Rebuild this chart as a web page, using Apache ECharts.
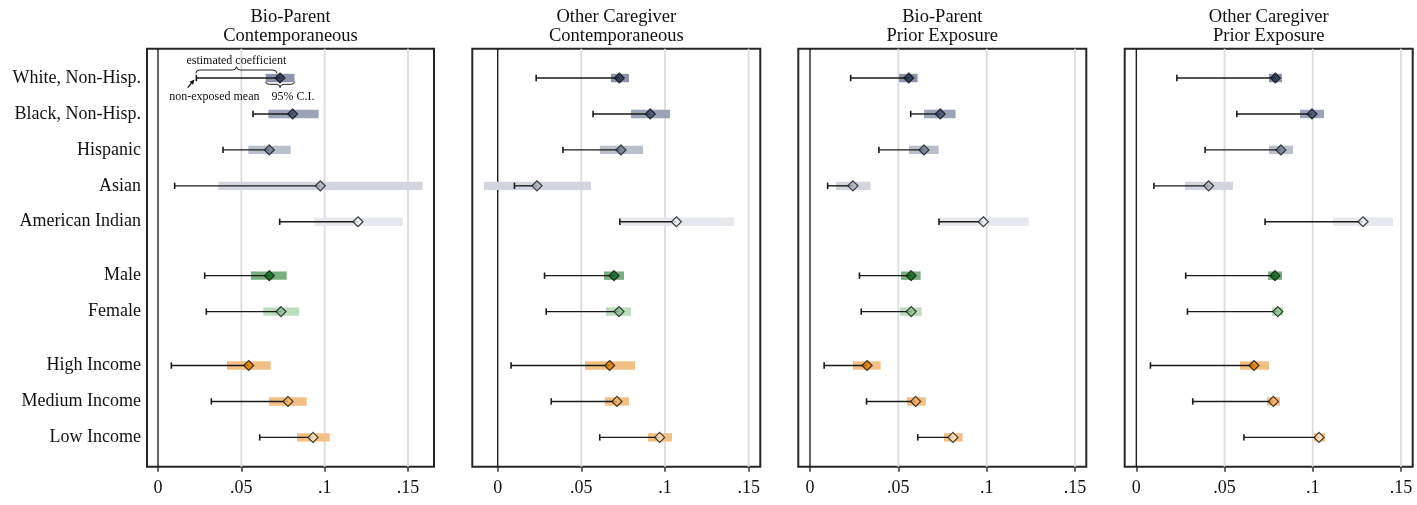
<!DOCTYPE html>
<html>
<head>
<meta charset="utf-8">
<script src="https://cdn.jsdelivr.net/npm/echarts@6/dist/echarts.min.js"></script>
<style>
html,body{margin:0;padding:0;background:#fff;}
#chart{width:1417px;height:505px;}
</style>
</head>
<body>
<div id="chart"></div>
<script>
// ---------- data ----------
const categories = ['White, Non-Hisp.', 'Black, Non-Hisp.', 'Hispanic', 'Asian', 'American Indian',
  'Male', 'Female', 'High Income', 'Medium Income', 'Low Income'];
const rowPositions = [0, 1, 2, 3, 4, 5.5, 6.5, 8, 9, 10];
const panelTitles = ['Bio-Parent\nContemporaneous', 'Other Caregiver\nContemporaneous',
  'Bio-Parent\nPrior Exposure', 'Other Caregiver\nPrior Exposure'];
const xTickValues = [0, 0.05, 0.1, 0.15];
const xTickLabels = ['0', '.05', '.1', '.15'];

// non-exposed mean (start of each line)
const nonExposedMean = [0.023, 0.057, 0.039, 0.010, 0.073, 0.028, 0.029, 0.008, 0.032, 0.061];

// panel 1: Bio-Parent Contemporaneous
const est1 = [0.0732, 0.0808, 0.0668, 0.0974, 0.1200, 0.0668, 0.0738, 0.0544, 0.0780, 0.0930];
const lo1  = [0.0646, 0.0662, 0.0542, 0.0362, 0.0938, 0.0558, 0.0632, 0.0414, 0.0666, 0.0834];
const hi1  = [0.0819, 0.0964, 0.0796, 0.1588, 0.1468, 0.0772, 0.0846, 0.0676, 0.0892, 0.1030];
// panel 2: Other Caregiver Contemporaneous
const est2 = [0.0727, 0.0912, 0.0737, 0.0235, 0.1068, 0.0695, 0.0725, 0.0669, 0.0713, 0.0968];
const lo2  = [0.0677, 0.0797, 0.0611, -0.0082, 0.0731, 0.0635, 0.0647, 0.0522, 0.0641, 0.0898];
const hi2  = [0.0785, 0.1030, 0.0869, 0.0558, 0.1413, 0.0755, 0.0797, 0.0821, 0.0785, 0.1042];
// panel 3: Bio-Parent Prior Exposure
const est3 = [0.0559, 0.0737, 0.0645, 0.0243, 0.0981, 0.0572, 0.0573, 0.0323, 0.0598, 0.0809];
const lo3  = [0.0504, 0.0645, 0.0560, 0.0147, 0.0730, 0.0515, 0.0509, 0.0243, 0.0549, 0.0758];
const hi3  = [0.0609, 0.0824, 0.0728, 0.0343, 0.1238, 0.0626, 0.0632, 0.0400, 0.0655, 0.0864];
// panel 4: Other Caregiver Prior Exposure
const est4 = [0.0788, 0.0996, 0.0820, 0.0410, 0.1285, 0.0786, 0.0802, 0.0667, 0.0777, 0.1036];
const lo4  = [0.0752, 0.0928, 0.0752, 0.0276, 0.1115, 0.0747, 0.0769, 0.0588, 0.0741, 0.1007];
const hi4  = [0.0826, 0.1064, 0.0888, 0.0548, 0.1455, 0.0826, 0.0832, 0.0752, 0.0815, 0.1070];

const panelEst = [est1, est2, est3, est4];
const panelLo = [lo1, lo2, lo3, lo4];
const panelHi = [hi1, hi2, hi3, hi4];
const panelXMin = [-0.0066, -0.01518, -0.00662, -0.00658];
const panelXMax = [0.1656, 0.15697, 0.15637, 0.15669];

// ---------- styles ----------
const barColors = ['#8c95ab', '#9ba3b8', '#b9bfcd', '#d2d5de', '#e7e8ee',
  '#78ae7e', '#bddbbf', '#f2bf84', '#f2bf84', '#f2bf84'];
const markerColors = ['#1f2c4a', '#3d4a69', '#6f7a93', '#aab1c2', '#eef0f4',
  '#0e6418', '#8cc292', '#e27d00', '#f4b062', '#fbe2c2'];
const FONT = '"Liberation Serif", "Times New Roman", serif';
const gridLefts = [147, 472.3, 798.3, 1124.7];
const gridWidth = 288;
const gridTop = 48.7;
const gridHeight = 418;
const yMin = -0.816, yMax = 10.816;

const chart = echarts.init(document.getElementById('chart'), null, {renderer: 'canvas'});

const grids = [], xAxes = [], yAxes = [], series = [], titles = [];

for (let p = 0; p < 4; p++) {
  grids.push({
    left: gridLefts[p], top: gridTop, width: p === 0 ? 287 : gridWidth, height: gridHeight,
    show: true, borderColor: '#262626', borderWidth: 2, backgroundColor: 'transparent',
    containLabel: false
  });
  titles.push({
    text: panelTitles[p],
    left: gridLefts[p] + (p === 0 ? 287 : gridWidth) / 2,
    top: 7, textAlign: 'center', padding: 0,
    textStyle: {fontFamily: FONT, fontSize: 18.5, fontWeight: 'normal', color: '#111', lineHeight: 19.5}
  });
  xAxes.push({
    type: 'value', gridIndex: p, min: panelXMin[p], max: panelXMax[p], position: 'bottom',
    axisLine: {show: false, onZero: false},
    axisTick: {show: true, customValues: xTickValues, length: 5, lineStyle: {color: '#333', width: 1.5}},
    axisLabel: {
      customValues: xTickValues, margin: 13,
      formatter: v => {
        let best = 0;
        xTickValues.forEach((t, i) => { if (Math.abs(t - v) < Math.abs(xTickValues[best] - v)) best = i; });
        return xTickLabels[best];
      },
      fontFamily: FONT, fontSize: 18, color: '#111'
    },
    splitLine: {show: false}
  });
  yAxes.push({
    type: 'value', gridIndex: p, inverse: true, min: yMin, max: yMax,
    axisLine: {show: false, onZero: false}, axisTick: {show: false}, splitLine: {show: false},
    axisLabel: p === 0 ? {
      show: true, customValues: rowPositions, margin: 6,
      formatter: v => {
        let best = 0;
        rowPositions.forEach((t, i) => { if (Math.abs(t - v) < Math.abs(rowPositions[best] - v)) best = i; });
        return categories[best];
      },
      fontFamily: FONT, fontSize: 18, color: '#111'
    } : {show: false}
  });

  // gridlines + zero line
  series.push({
    type: 'custom', xAxisIndex: p, yAxisIndex: p, silent: true, z: 1,
    data: xTickValues.map(v => [v, 0]),
    encode: {x: 0, y: 1},
    clip: false,
    renderItem: (params, api) => {
      const v = api.value(0);
      const top = api.coord([v, yMin]);
      const bot = api.coord([v, yMax]);
      const isZero = Math.abs(v) < 1e-9;
      return {
        type: 'line',
        shape: {x1: top[0], y1: top[1], x2: bot[0], y2: bot[1]},
        style: {stroke: isZero ? '#111' : '#dcdcdc', lineWidth: isZero ? 1.3 : 1.8}
      };
    }
  });

  // CI bars
  series.push({
    type: 'custom', xAxisIndex: p, yAxisIndex: p, silent: true, z: 2,
    data: categories.map((c, i) => [panelLo[p][i], panelHi[p][i], rowPositions[i], i]),
    encode: {x: [0, 1], y: 2},
    renderItem: (params, api) => {
      const a = api.coord([api.value(0), api.value(2)]);
      const b = api.coord([api.value(1), api.value(2)]);
      const idx = api.value(3);
      return {
        type: 'rect',
        shape: {x: a[0], y: a[1] - 4.2, width: b[0] - a[0], height: 8.4},
        style: {fill: barColors[idx]}
      };
    }
  });

  // mean -> estimate line with cap
  series.push({
    type: 'custom', xAxisIndex: p, yAxisIndex: p, silent: true, z: 3,
    data: categories.map((c, i) => [nonExposedMean[i], panelEst[p][i], rowPositions[i]]),
    encode: {x: [0, 1], y: 2},
    renderItem: (params, api) => {
      const a = api.coord([api.value(0), api.value(2)]);
      const b = api.coord([api.value(1), api.value(2)]);
      return {
        type: 'group',
        children: [
          {type: 'line', shape: {x1: a[0], y1: a[1], x2: b[0], y2: b[1]},
            style: {stroke: '#1a1a1a', lineWidth: 1.4}},
          {type: 'line', shape: {x1: a[0], y1: a[1] - 3.2, x2: a[0], y2: a[1] + 3.2},
            style: {stroke: '#1a1a1a', lineWidth: 1.6}}
        ]
      };
    }
  });

  // estimate diamonds
  series.push({
    type: 'scatter', xAxisIndex: p, yAxisIndex: p, silent: true, z: 4,
    symbol: 'diamond', symbolSize: [10, 10],
    data: categories.map((c, i) => ({
      value: [panelEst[p][i], rowPositions[i]],
      itemStyle: {color: markerColors[i], borderColor: '#111', borderWidth: 1.2}
    }))
  });
}

// annotation (legend key) in panel 1, attached to the first row
series.push({
  type: 'custom', xAxisIndex: 0, yAxisIndex: 0, silent: true, z: 5, clip: false,
  data: [[nonExposedMean[0], est1[0], lo1[0], hi1[0], rowPositions[0]]],
  encode: {x: [0, 1, 2, 3], y: 4},
  renderItem: (params, api) => {
    const y0 = api.value(4);
    const pm = api.coord([api.value(0), y0]);
    const pe = api.coord([api.value(1), y0]);
    const pl = api.coord([api.value(2), y0]);
    const ph = api.coord([api.value(3), y0]);
    const yr = pm[1];
    const r = 4;
    // top brace (estimated coefficient)
    const x1 = pm[0] - 0.5, x2 = pe[0] - 3, xm = (x1 + x2) / 2;
    const yh = yr - 8, ye = yr - 4.6, yt = yr - 11.5;
    const top = `M${x1},${ye} Q${x1},${yh} ${x1 + r},${yh} L${xm - r},${yh} Q${xm},${yh} ${xm},${yt} ` +
      `Q${xm},${yh} ${xm + r},${yh} L${x2 - r},${yh} Q${x2},${yh} ${x2},${ye}`;
    // bottom brace (95% CI)
    const c1 = pl[0], c2 = ph[0], cm = (c1 + c2) / 2;
    const ch = yr + 6.3, ce = yr + 3.8, ct = yr + 9.6;
    const bot = `M${c1},${ce} Q${c1},${ch} ${c1 + r},${ch} L${cm - r},${ch} Q${cm},${ch} ${cm},${ct} ` +
      `Q${cm},${ch} ${cm + r},${ch} L${c2 - r},${ch} Q${c2},${ch} ${c2},${ce}`;
    // arrow to non-exposed mean
    const ax0 = pm[0] - 8.6, ay0 = yr + 9.5, ax1 = pm[0] - 1.8, ay1 = yr + 1.4;
    const dx = ax1 - ax0, dy = ay1 - ay0, L = Math.hypot(dx, dy);
    const ux = dx / L, uy = dy / L, hl = 5, hw = 2.4;
    const bx = ax1 - ux * hl, by = ay1 - uy * hl;
    const txtStyle = {fontFamily: FONT, fontSize: 12, fill: '#111'};
    return {
      type: 'group',
      children: [
        {type: 'path', shape: {pathData: top}, style: {stroke: '#222', lineWidth: 1, fill: null}},
        {type: 'path', shape: {pathData: bot}, style: {stroke: '#222', lineWidth: 1, fill: null}},
        {type: 'line', shape: {x1: ax0, y1: ay0, x2: bx, y2: by}, style: {stroke: '#111', lineWidth: 1.2}},
        {type: 'polygon', shape: {points: [[ax1, ay1], [bx - uy * hw, by + ux * hw], [bx + uy * hw, by - ux * hw]]},
          style: {fill: '#111'}},
        {type: 'text', x: xm, y: yr - 17.5,
          style: Object.assign({text: 'estimated coefficient', align: 'center', verticalAlign: 'middle'}, txtStyle)},
        {type: 'text', x: cm + 13, y: yr + 19,
          style: Object.assign({text: '95% C.I.', align: 'center', verticalAlign: 'middle'}, txtStyle)},
        {type: 'text', x: pm[0] + 18, y: yr + 19,
          style: Object.assign({text: 'non-exposed mean', align: 'center', verticalAlign: 'middle'}, txtStyle)}
      ]
    };
  }
});

chart.setOption({
  animation: false,
  backgroundColor: '#ffffff',
  title: titles,
  grid: grids,
  xAxis: xAxes,
  yAxis: yAxes,
  series: series
});
</script>
</body>
</html>
